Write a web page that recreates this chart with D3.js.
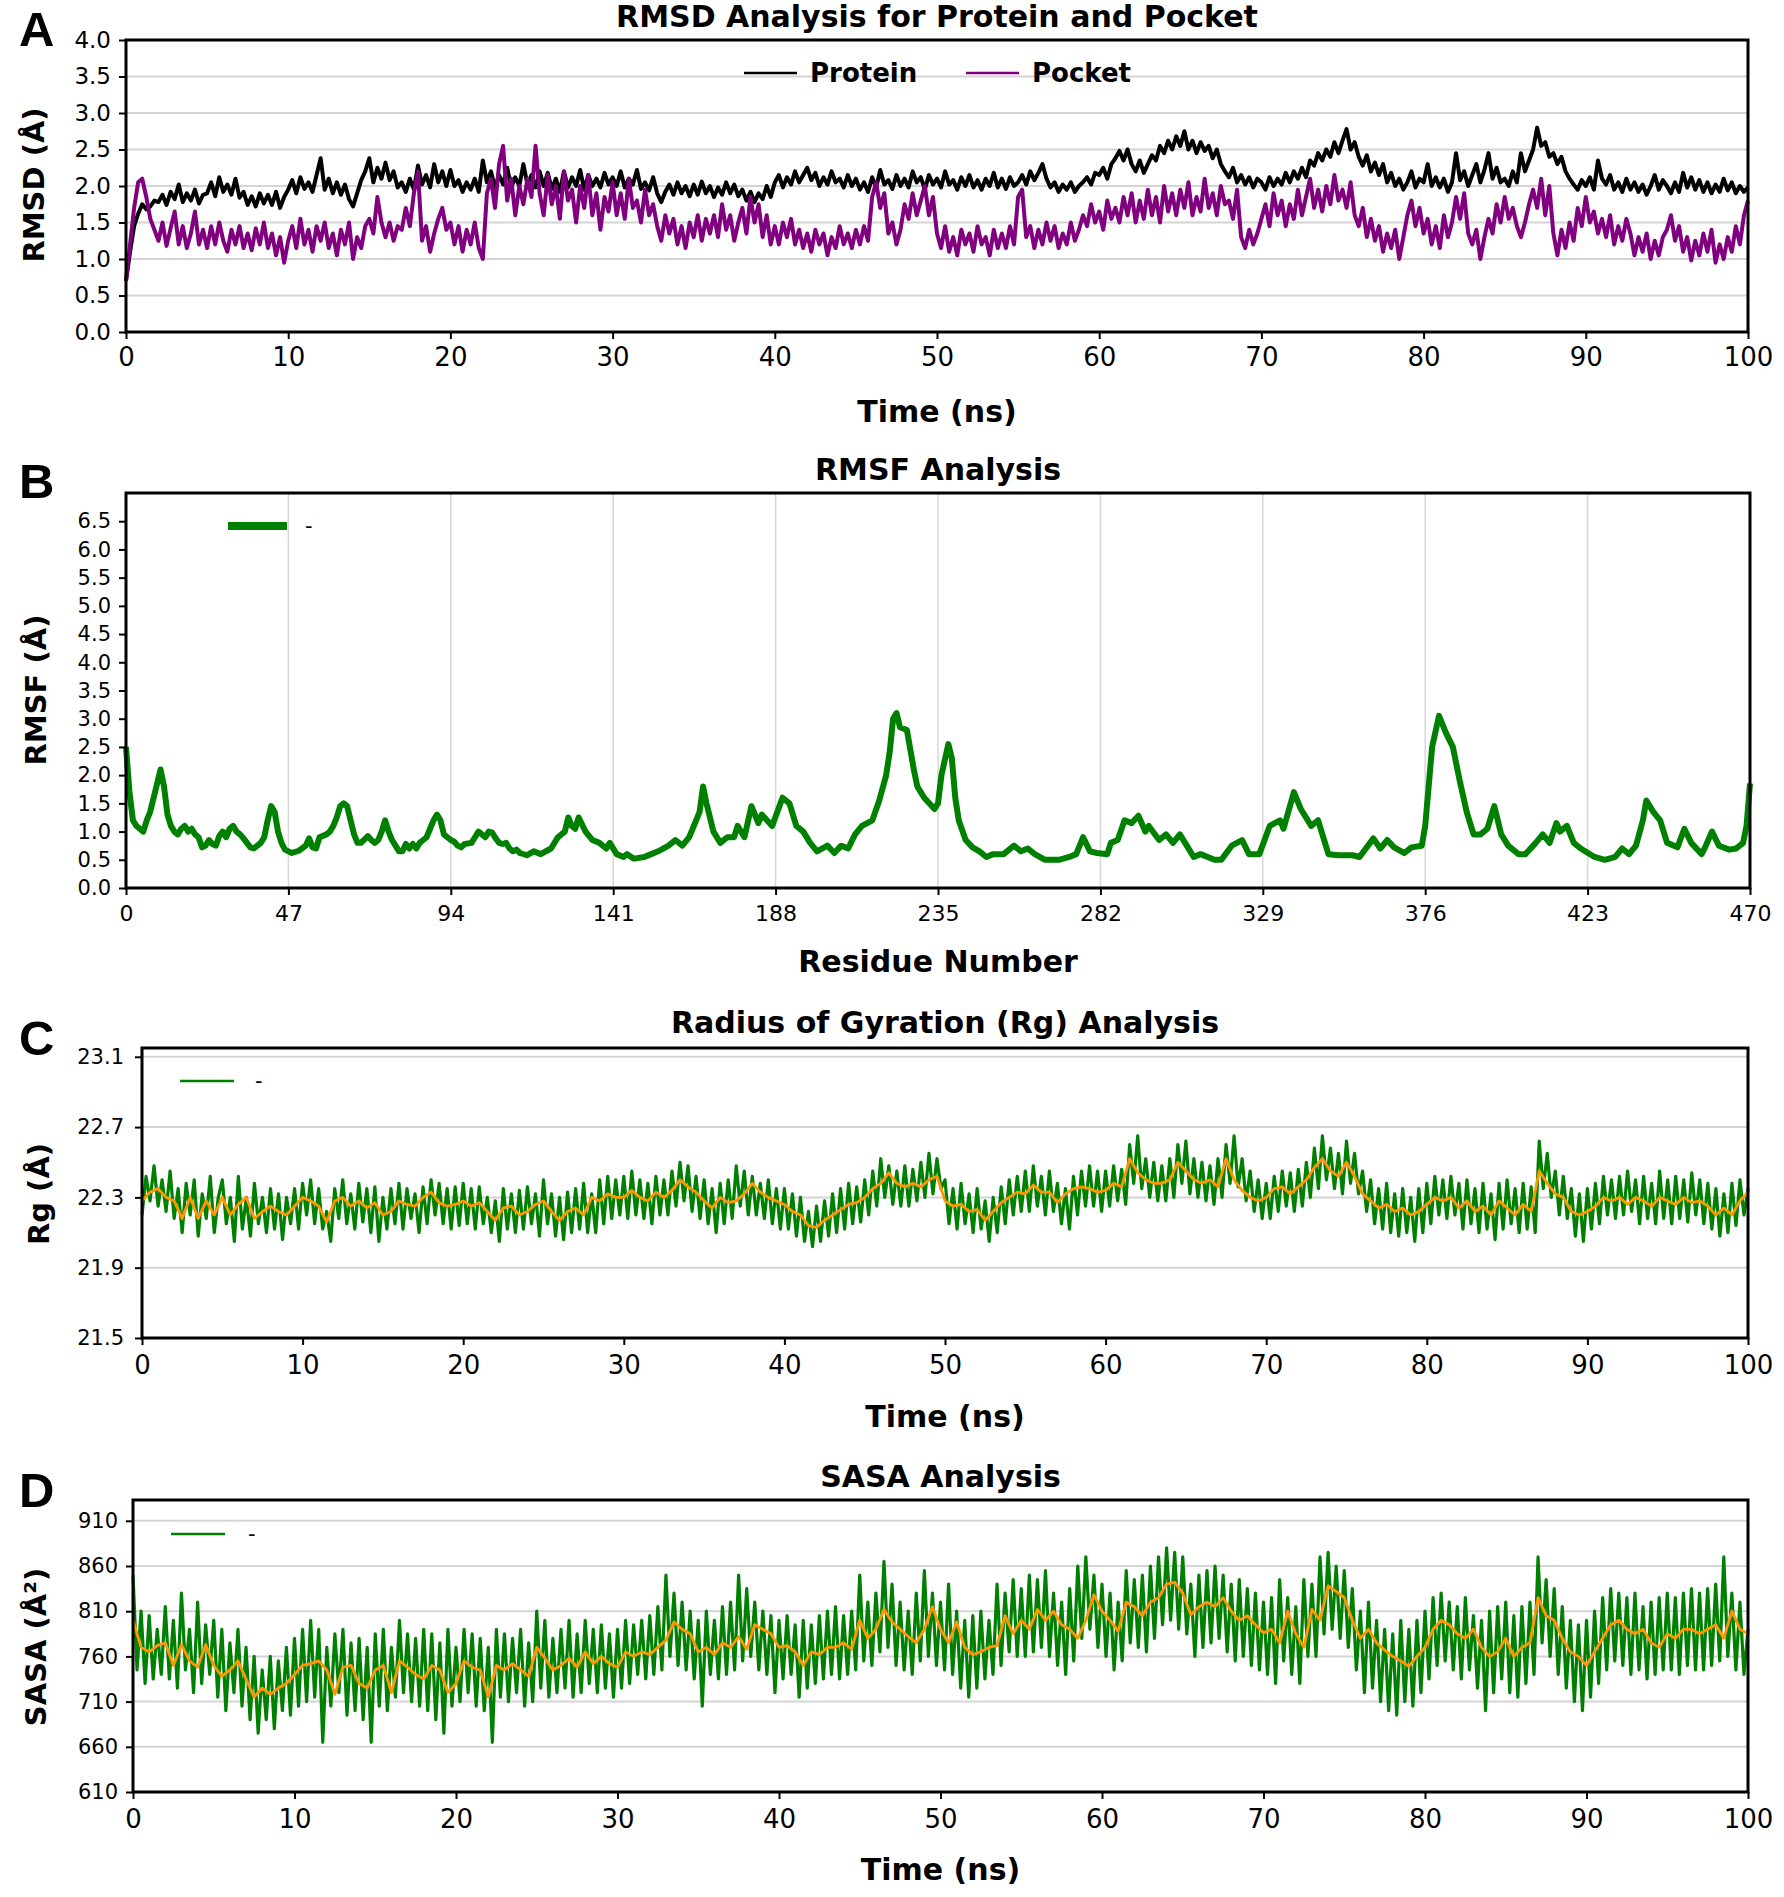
<!DOCTYPE html>
<html>
<head>
<meta charset="utf-8">
<script src="https://cdn.jsdelivr.net/npm/d3@7"></script>
<style>
  body { margin: 0; background: #fff; }
</style>
</head>
<body>
<div id="chart"></div>
<script>
"use strict";

// === DATA ===

// Panel A – RMSD, one value every 0.25 ns from 0 to 100 ns
const rmsdProtein = [
  0.7, 1.1, 1.45, 1.62, 1.75, 1.68, 1.72, 1.8, 1.78, 1.88, 1.74, 1.92, 1.82, 2.02, 1.78, 1.9, 1.8, 1.95, 1.76, 1.88,
  1.9, 2.05, 1.86, 2.12, 1.92, 2.02, 1.88, 2.1, 1.84, 1.92, 1.74, 1.86, 1.72, 1.9, 1.76, 1.88, 1.74, 1.92, 1.7, 1.85,
  1.95, 2.08, 1.9, 2.12, 1.96, 2.05, 1.92, 2.15, 2.38, 1.95, 2.1, 1.9, 2.05, 1.88, 2.02, 1.82, 1.72, 1.9, 2.08, 2.2,
  2.38, 2.05, 2.25, 2.1, 2.32, 2.08, 2.2, 1.98, 2.05, 1.92, 2.1, 1.95, 2.28, 2.02, 2.15, 1.98, 2.3, 2.05, 2.2, 2.0,
  2.22, 2.0, 2.08, 1.92, 2.05, 1.95, 2.1, 1.92, 2.35, 2.05, 2.2, 1.98, 2.15, 2.02, 2.25, 1.98, 2.12, 2.0, 2.3, 2.02,
  2.15, 1.98, 2.2, 2.0, 2.18, 1.96, 2.1, 1.92, 2.2, 1.98, 2.12, 2.0, 2.22, 1.95, 2.15, 2.0, 2.1, 1.98, 2.18, 2.02,
  2.12, 2.0, 2.2, 1.98, 2.1, 2.02, 2.22, 1.96, 2.05, 1.94, 2.12, 1.9, 1.78, 1.92, 2.02, 1.88, 2.05, 1.9, 2.0, 1.86,
  2.02, 1.88, 2.06, 1.9, 2.0, 1.85, 1.98, 1.88, 2.05, 1.9, 2.02, 1.86, 1.95, 1.8, 1.92, 1.78, 1.9, 1.82, 2.0, 1.85,
  2.05, 2.15, 1.98, 2.12, 2.02, 2.2, 2.05, 2.15, 2.25, 2.08, 2.18, 2.0, 2.12, 2.02, 2.2, 2.05, 2.1, 1.98, 2.15, 2.0,
  2.1, 1.95, 2.05, 1.92, 2.12, 1.98, 2.22, 2.02, 2.08, 1.96, 2.15, 2.0, 2.1, 1.98, 2.2, 2.05, 2.12, 1.95, 2.15, 2.02,
  2.1, 1.98, 2.2, 2.02, 2.08, 1.95, 2.12, 2.0, 2.15, 1.98, 2.08, 1.95, 2.1, 2.0, 2.18, 1.98, 2.1, 1.96, 2.12, 2.0,
  2.05, 2.15, 2.02, 2.2, 2.08, 2.18, 2.3, 2.1, 1.98, 2.05, 1.92, 2.02, 1.95, 2.05, 1.92, 2.0, 2.05, 2.12, 2.02, 2.18,
  2.15, 2.25, 2.1, 2.3, 2.38, 2.48, 2.35, 2.5, 2.3, 2.2, 2.35, 2.18, 2.3, 2.42, 2.35, 2.55, 2.45, 2.62, 2.5, 2.68,
  2.55, 2.75, 2.5, 2.62, 2.45, 2.6, 2.48, 2.55, 2.38, 2.5, 2.3, 2.2, 2.12, 2.25, 2.05, 2.15, 2.02, 2.12, 1.98, 2.1,
  2.05, 1.95, 2.12, 2.0, 2.1, 2.02, 2.18, 2.05, 2.2, 2.1, 2.25, 2.12, 2.35, 2.28, 2.45, 2.35, 2.5, 2.4, 2.6, 2.45,
  2.62, 2.78, 2.5, 2.6, 2.4, 2.28, 2.42, 2.2, 2.32, 2.15, 2.3, 2.05, 2.18, 2.0, 2.1, 1.95, 2.05, 2.2, 1.98, 2.1,
  2.05, 2.3, 2.0, 2.12, 1.98, 2.1, 1.92, 2.05, 2.45, 2.08, 2.2, 2.0, 2.15, 2.3, 2.05, 2.22, 2.45, 2.1, 2.25, 2.05,
  2.1, 2.0, 2.2, 2.05, 2.45, 2.2, 2.35, 2.5, 2.8, 2.55, 2.6, 2.4, 2.45, 2.3, 2.4, 2.2, 2.1, 2.02, 1.95, 2.08,
  2.0, 2.12, 1.95, 2.35, 2.1, 2.02, 2.15, 1.95, 2.05, 1.92, 2.1, 1.95, 2.05, 1.92, 2.02, 1.88, 2.0, 2.15, 1.95, 2.08,
  2.0, 1.9, 2.05, 1.92, 2.18, 1.98, 2.12, 1.95, 2.08, 1.92, 2.05, 1.9, 2.02, 1.92, 2.1, 1.94, 2.05, 1.9, 2.0, 1.92,
  1.98
];

const rmsdPocket = [
  0.7, 1.2, 1.7, 2.05, 2.1, 1.85, 1.55, 1.4, 1.25, 1.5, 1.18, 1.42, 1.65, 1.2, 1.45, 1.15, 1.35, 1.65, 1.2, 1.4,
  1.15, 1.45, 1.2, 1.5, 1.25, 1.1, 1.4, 1.2, 1.45, 1.15, 1.35, 1.12, 1.42, 1.2, 1.5, 1.15, 1.35, 1.05, 1.3, 0.95,
  1.25, 1.45, 1.15, 1.55, 1.2, 1.4, 1.1, 1.45, 1.25, 1.5, 1.15, 1.35, 1.05, 1.4, 1.2, 1.5, 1.0, 1.3, 1.15, 1.45,
  1.55, 1.35, 1.85, 1.5, 1.3, 1.5, 1.25, 1.45, 1.4, 1.7, 1.45, 1.9, 2.2, 1.25, 1.45, 1.1, 1.35, 1.55, 1.7, 1.4,
  1.5, 1.2, 1.45, 1.1, 1.4, 1.2, 1.5, 1.15, 1.0, 1.9, 2.1, 1.7, 2.3, 2.55, 1.8, 2.1, 1.6, 2.0, 1.75, 2.1,
  1.85, 2.55, 1.9, 1.6, 2.15, 1.75, 2.0, 1.55, 2.2, 1.8, 1.95, 1.5, 2.0, 1.7, 2.15, 1.6, 1.9, 1.4, 1.85, 1.65,
  2.05, 1.6, 1.9, 1.55, 2.1, 1.7, 1.8, 1.5, 1.95, 1.6, 1.75, 1.45, 1.25, 1.6, 1.35, 1.55, 1.2, 1.45, 1.15, 1.5,
  1.3, 1.6, 1.25, 1.55, 1.35, 1.6, 1.3, 1.75, 1.4, 1.6, 1.25, 1.5, 1.7, 1.35, 1.85, 1.5, 1.75, 1.3, 1.6, 1.2,
  1.45, 1.2, 1.5, 1.3, 1.55, 1.2, 1.4, 1.15, 1.35, 1.1, 1.4, 1.2, 1.35, 1.05, 1.3, 1.15, 1.45, 1.2, 1.35, 1.15,
  1.4, 1.2, 1.45, 1.25, 1.85, 2.05, 1.7, 1.9, 1.35, 1.5, 1.2, 1.4, 1.75, 1.55, 1.9, 1.6, 1.8, 2.0, 1.6, 1.85,
  1.35, 1.15, 1.45, 1.1, 1.3, 1.05, 1.4, 1.2, 1.35, 1.1, 1.45, 1.2, 1.3, 1.05, 1.4, 1.15, 1.35, 1.15, 1.45, 1.2,
  1.85, 1.95, 1.3, 1.45, 1.15, 1.4, 1.2, 1.5, 1.25, 1.45, 1.15, 1.35, 1.2, 1.5, 1.25, 1.4, 1.6, 1.45, 1.75, 1.5,
  1.65, 1.4, 1.8, 1.55, 1.7, 1.5, 1.85, 1.6, 1.9, 1.5, 1.8, 1.55, 1.95, 1.6, 1.85, 1.5, 2.0, 1.65, 1.9, 1.6,
  1.95, 1.7, 2.05, 1.6, 1.85, 1.65, 2.1, 1.7, 1.9, 1.6, 2.0, 1.75, 1.8, 1.55, 1.95, 1.3, 1.15, 1.4, 1.2, 1.35,
  1.55, 1.75, 1.45, 1.9, 1.6, 1.8, 1.45, 1.75, 1.55, 1.95, 1.6, 1.85, 2.1, 1.7, 1.95, 1.65, 2.0, 1.75, 2.15, 1.8,
  1.95, 1.7, 2.05, 1.6, 1.45, 1.7, 1.3, 1.55, 1.25, 1.45, 1.1, 1.35, 1.15, 1.4, 1.0, 1.3, 1.6, 1.8, 1.45, 1.7,
  1.35, 1.55, 1.2, 1.45, 1.15, 1.6, 1.3, 1.5, 1.85, 1.55, 1.9, 1.35, 1.2, 1.4, 1.0, 1.3, 1.55, 1.35, 1.75, 1.5,
  1.85, 1.55, 1.7, 1.45, 1.3, 1.5, 1.75, 1.95, 1.7, 2.1, 1.6, 2.0, 1.35, 1.05, 1.4, 1.15, 1.5, 1.25, 1.7, 1.45,
  1.85, 1.5, 1.65, 1.35, 1.55, 1.3, 1.6, 1.2, 1.45, 1.25, 1.55, 1.35, 1.05, 1.3, 1.1, 1.35, 1.0, 1.25, 1.05, 1.3,
  1.4, 1.6, 1.25, 1.45, 1.1, 1.3, 0.98, 1.25, 1.05, 1.35, 1.1, 1.4, 0.95, 1.2, 1.0, 1.3, 1.1, 1.45, 1.2, 1.6,
  1.8
];

// Panel B – RMSF per residue
const residues = [
  0, 1, 2, 3, 4, 5, 6, 7, 8, 9, 10, 11, 12, 13, 14, 15, 16, 17, 18, 19, 20, 21, 22, 23, 24, 25, 26, 27, 28, 29,
  30, 31, 32, 33, 34, 35, 36, 37, 38, 39, 40, 41, 42, 43, 44, 45, 46, 47, 48, 50, 52, 53, 54, 55, 56, 58, 59, 60,
  61, 62, 63, 64, 65, 66, 67, 68, 70, 71, 72, 73, 74, 75, 76, 77, 78, 79, 80, 81, 82, 83, 84, 85, 86, 87, 88, 89,
  90, 91, 92, 93, 94, 95, 96, 97, 98, 100, 101, 102, 103, 104, 105, 106, 107, 108, 109, 110, 111, 112, 113, 114,
  116, 118, 120, 123, 125, 127, 128, 129, 130, 131, 133, 135, 137, 139, 140, 142, 144, 145, 147, 150, 152, 154,
  157, 159, 161, 163, 165, 166, 167, 168, 170, 172, 174, 176, 177, 179, 181, 183, 184, 187, 190, 192, 194, 196,
  198, 200, 203, 205, 207, 209, 211, 213, 216, 218, 220, 221, 222, 223, 224, 226, 228, 229, 231, 234, 235, 236,
  238, 239, 240, 241, 243, 245, 247, 249, 251, 254, 257, 259, 261, 263, 266, 270, 273, 275, 277, 279, 281, 284,
  285, 287, 289, 291, 293, 295, 296, 299, 301, 303, 305, 307, 309, 311, 315, 317, 320, 323, 325, 328, 331, 334,
  335, 338, 340, 343, 345, 348, 351, 355, 357, 361, 363, 365, 367, 370, 372, 375, 376, 378, 380, 382, 384, 386,
  388, 390, 392, 394, 396, 398, 400, 403, 405, 408, 410, 412, 414, 415, 417, 419, 421, 425, 428, 431, 433, 435,
  437, 439, 440, 442, 444, 446, 449, 451, 453, 456, 457, 459, 461, 464, 466, 468, 469, 470
];
const rmsf = [
  2.5, 1.7, 1.2, 1.1, 1.05, 1.0, 1.2, 1.35, 1.6, 1.85, 2.1, 1.8, 1.3, 1.1, 1.0, 0.95, 1.05, 1.1, 1.0, 1.05, 0.95, 0.9, 0.72, 0.75, 0.85, 0.78, 0.75, 0.92, 1.0, 0.9,
  1.05, 1.1, 1.0, 0.95, 0.88, 0.8, 0.72, 0.7, 0.75, 0.8, 0.9, 1.2, 1.45, 1.35, 1.0, 0.8, 0.68, 0.65, 0.62, 0.66, 0.75, 0.88, 0.72, 0.7, 0.9, 0.95, 1.0, 1.1,
  1.25, 1.45, 1.5, 1.45, 1.2, 0.95, 0.8, 0.8, 0.92, 0.85, 0.8, 0.85, 1.0, 1.2, 1.0, 0.85, 0.75, 0.65, 0.65, 0.78, 0.7, 0.78, 0.7, 0.8, 0.85, 0.9, 1.05, 1.2,
  1.3, 1.2, 0.95, 0.9, 0.85, 0.82, 0.75, 0.72, 0.78, 0.8, 0.9, 1.0, 0.95, 0.9, 1.0, 0.98, 0.88, 0.8, 0.78, 0.8, 0.7, 0.65, 0.68, 0.62,
  0.58, 0.65, 0.6, 0.7, 0.9, 1.0, 1.25, 1.1, 1.05, 1.25, 1.0, 0.85, 0.8, 0.7, 0.8, 0.6, 0.55, 0.6, 0.52, 0.55, 0.6, 0.65,
  0.75, 0.85, 0.75, 0.9, 1.2, 1.35, 1.8, 1.5, 1.0, 0.8, 0.9, 0.9, 1.1, 0.9, 1.45, 1.15, 1.3, 1.1, 1.6, 1.5, 1.1, 1.0,
  0.8, 0.65, 0.75, 0.62, 0.75, 0.7, 0.95, 1.1, 1.2, 1.55, 2.0, 2.4, 3.0, 3.1, 2.85, 2.8, 2.1, 1.8, 1.6, 1.4, 1.5, 2.0,
  2.55, 2.3, 1.6, 1.2, 0.85, 0.72, 0.65, 0.55, 0.6, 0.6, 0.75, 0.65, 0.7, 0.6, 0.5, 0.5, 0.55, 0.6, 0.9, 0.65, 0.62, 0.6,
  0.8, 0.85, 1.2, 1.15, 1.28, 1.0, 1.1, 0.85, 0.95, 0.8, 0.95, 0.75, 0.55, 0.6, 0.5, 0.5, 0.75, 0.85, 0.6, 0.6, 1.1, 1.2,
  1.05, 1.7, 1.4, 1.1, 1.2, 0.6, 0.58, 0.58, 0.55, 0.88, 0.7, 0.85, 0.72, 0.62, 0.72, 0.75, 1.1, 2.5, 3.05, 2.75, 2.5, 1.9,
  1.35, 0.95, 0.95, 1.05, 1.45, 0.95, 0.75, 0.6, 0.6, 0.8, 0.95, 0.8, 1.15, 1.0, 1.1, 0.8, 0.7, 0.55, 0.5, 0.55, 0.7, 0.6,
  0.75, 1.2, 1.55, 1.35, 1.2, 0.8, 0.72, 1.05, 0.8, 0.6, 0.72, 1.0, 0.75, 0.68, 0.7, 0.8, 1.1, 1.85
];

// Panel C – radius of gyration, raw every 0.25 ns and running mean every 0.5 ns
const rgRaw = [
  22.2, 22.42, 22.28, 22.48, 22.25, 22.4, 22.22, 22.45, 22.18, 22.35, 22.1, 22.38, 22.2, 22.4, 22.08, 22.32, 22.18, 22.42, 22.1, 22.3,
  22.4, 22.15, 22.3, 22.05, 22.42, 22.12, 22.3, 22.08, 22.38, 22.15, 22.3, 22.1, 22.35, 22.12, 22.32, 22.06, 22.3, 22.15, 22.35, 22.12,
  22.38, 22.2, 22.4, 22.15, 22.35, 22.12, 22.22, 22.05, 22.35, 22.18, 22.4, 22.15, 22.32, 22.12, 22.38, 22.16, 22.35, 22.1, 22.36, 22.05,
  22.3, 22.12, 22.35, 22.15, 22.38, 22.12, 22.35, 22.18, 22.32, 22.1, 22.36, 22.15, 22.4, 22.2, 22.38, 22.15, 22.35, 22.12, 22.36, 22.14,
  22.38, 22.15, 22.35, 22.12, 22.36, 22.15, 22.3, 22.1, 22.28, 22.05, 22.35, 22.12, 22.32, 22.1, 22.34, 22.12, 22.36, 22.15, 22.32, 22.08,
  22.4, 22.15, 22.32, 22.08, 22.3, 22.06, 22.33, 22.1, 22.35, 22.12, 22.38, 22.1, 22.32, 22.1, 22.4, 22.15, 22.42, 22.18, 22.4, 22.2,
  22.42, 22.18, 22.45, 22.2, 22.4, 22.18, 22.38, 22.15, 22.42, 22.2, 22.4, 22.2, 22.45, 22.25, 22.5, 22.28, 22.48, 22.22, 22.42, 22.18,
  22.4, 22.15, 22.35, 22.1, 22.38, 22.15, 22.4, 22.18, 22.48, 22.25, 22.45, 22.2, 22.42, 22.2, 22.38, 22.18, 22.4, 22.15, 22.35, 22.12,
  22.35, 22.12, 22.32, 22.08, 22.3, 22.05, 22.22, 22.02, 22.25, 22.05, 22.28, 22.08, 22.32, 22.1, 22.35, 22.12, 22.38, 22.15, 22.36, 22.16,
  22.4, 22.2, 22.45, 22.25, 22.52, 22.3, 22.48, 22.26, 22.45, 22.25, 22.48, 22.25, 22.46, 22.28, 22.5, 22.3, 22.55, 22.32, 22.52, 22.35,
  22.4, 22.15, 22.35, 22.12, 22.38, 22.15, 22.32, 22.1, 22.35, 22.12, 22.28, 22.05, 22.3, 22.1, 22.36, 22.15, 22.4, 22.2, 22.42, 22.22,
  22.45, 22.22, 22.48, 22.25, 22.42, 22.2, 22.45, 22.22, 22.38, 22.15, 22.35, 22.12, 22.42, 22.2, 22.45, 22.25, 22.48, 22.25, 22.45, 22.22,
  22.45, 22.25, 22.48, 22.28, 22.46, 22.26, 22.6, 22.38, 22.65, 22.35, 22.52, 22.3, 22.5, 22.28, 22.48, 22.28, 22.52, 22.3, 22.6, 22.38,
  22.62, 22.32, 22.52, 22.3, 22.5, 22.28, 22.48, 22.26, 22.52, 22.3, 22.6, 22.38, 22.65, 22.36, 22.52, 22.28, 22.45, 22.22, 22.4, 22.18,
  22.38, 22.18, 22.42, 22.22, 22.45, 22.25, 22.44, 22.22, 22.46, 22.25, 22.5, 22.3, 22.58, 22.35, 22.65, 22.4, 22.58, 22.35, 22.55, 22.32,
  22.62, 22.38, 22.55, 22.32, 22.45, 22.22, 22.4, 22.15, 22.35, 22.12, 22.38, 22.1, 22.32, 22.08, 22.35, 22.1, 22.3, 22.05, 22.35, 22.1,
  22.38, 22.15, 22.42, 22.2, 22.4, 22.18, 22.42, 22.2, 22.38, 22.12, 22.4, 22.15, 22.35, 22.1, 22.38, 22.12, 22.32, 22.06, 22.38, 22.12,
  22.4, 22.15, 22.35, 22.1, 22.38, 22.12, 22.36, 22.1, 22.62, 22.35, 22.55, 22.3, 22.45, 22.2, 22.42, 22.18, 22.35, 22.08, 22.32, 22.05,
  22.35, 22.12, 22.38, 22.15, 22.42, 22.2, 22.4, 22.18, 22.42, 22.2, 22.45, 22.22, 22.4, 22.15, 22.42, 22.18, 22.38, 22.15, 22.45, 22.18,
  22.4, 22.15, 22.42, 22.18, 22.4, 22.16, 22.44, 22.2, 22.4, 22.15, 22.38, 22.12, 22.35, 22.08, 22.32, 22.1, 22.38, 22.14, 22.4, 22.2,
  22.35
];
const rgSmooth = [
  22.28, 22.33, 22.35, 22.3, 22.28, 22.18, 22.3, 22.18, 22.28, 22.2, 22.3, 22.2, 22.26, 22.3, 22.18, 22.22, 22.25, 22.22, 22.2, 22.25,
  22.3, 22.28, 22.25, 22.16, 22.28, 22.3, 22.25, 22.28, 22.24, 22.27, 22.2, 22.22, 22.28, 22.26, 22.25, 22.3, 22.33, 22.27, 22.25, 22.26,
  22.28, 22.25, 22.27, 22.22, 22.17, 22.24, 22.25, 22.2, 22.22, 22.26, 22.28, 22.22, 22.17, 22.22, 22.24, 22.2, 22.3, 22.28, 22.32, 22.3,
  22.3, 22.34, 22.3, 22.28, 22.33, 22.3, 22.34, 22.4, 22.36, 22.33, 22.28, 22.24, 22.3, 22.27, 22.28, 22.32, 22.38, 22.33, 22.3, 22.28,
  22.26, 22.22, 22.2, 22.14, 22.13, 22.17, 22.2, 22.23, 22.26, 22.27, 22.3, 22.35, 22.38, 22.44, 22.38, 22.36, 22.38, 22.36, 22.4, 22.42,
  22.28, 22.25, 22.26, 22.22, 22.23, 22.17, 22.22, 22.27, 22.3, 22.33, 22.32, 22.37, 22.33, 22.33, 22.27, 22.32, 22.35, 22.36, 22.35, 22.33,
  22.34, 22.38, 22.36, 22.52, 22.44, 22.4, 22.38, 22.38, 22.4, 22.5, 22.45, 22.4, 22.38, 22.4, 22.36, 22.52, 22.4, 22.34, 22.3, 22.28,
  22.3, 22.35, 22.36, 22.32, 22.36, 22.4, 22.47, 22.52, 22.45, 22.42, 22.5, 22.42, 22.32, 22.28, 22.24, 22.26, 22.22, 22.24, 22.2, 22.22,
  22.26, 22.3, 22.28, 22.3, 22.24, 22.28, 22.22, 22.25, 22.2, 22.28, 22.24, 22.2, 22.26, 22.22, 22.45, 22.38, 22.32, 22.3, 22.22, 22.2,
  22.22, 22.25, 22.3, 22.28, 22.3, 22.26, 22.3, 22.28, 22.25, 22.3, 22.28, 22.26, 22.3, 22.27, 22.28, 22.25, 22.2, 22.24, 22.2, 22.28,
  22.33
];

// Panel D – SASA, raw every 0.25 ns and running mean every 0.5 ns
const sasaRaw = [
  850, 745, 810, 730, 805, 735, 790, 740, 815, 735, 800, 725, 830, 745, 790, 720, 820, 730, 795, 740,
  800, 715, 790, 700, 775, 720, 790, 705, 770, 690, 760, 675, 745, 690, 760, 680, 755, 700, 770, 695,
  780, 705, 790, 710, 800, 715, 790, 665, 770, 705, 785, 720, 790, 695, 775, 700, 780, 690, 770, 665,
  785, 705, 790, 700, 770, 715, 800, 720, 785, 710, 780, 705, 790, 700, 785, 690, 775, 675, 790, 705,
  770, 710, 790, 720, 785, 705, 780, 700, 770, 665, 790, 715, 785, 710, 780, 720, 790, 705, 775, 710,
  810, 725, 800, 715, 780, 720, 790, 725, 800, 715, 785, 720, 800, 730, 790, 720, 795, 725, 785, 715,
  790, 725, 800, 730, 795, 740, 800, 735, 805, 740, 815, 745, 850, 760, 830, 750, 820, 745, 810, 735,
  800, 705, 810, 740, 800, 735, 815, 740, 820, 745, 850, 755, 835, 760, 820, 745, 810, 740, 805, 720,
  800, 735, 805, 740, 795, 715, 800, 725, 795, 730, 805, 735, 810, 740, 815, 735, 805, 740, 810, 745,
  850, 755, 820, 750, 830, 765, 865, 770, 840, 750, 820, 745, 810, 740, 830, 755, 855, 760, 830, 750,
  820, 745, 840, 740, 810, 725, 800, 715, 805, 725, 810, 735, 800, 740, 840, 750, 830, 765, 845, 760,
  835, 760, 850, 765, 845, 770, 855, 760, 830, 750, 820, 740, 835, 755, 860, 780, 870, 790, 850, 770,
  840, 760, 830, 745, 820, 755, 855, 775, 845, 770, 850, 765, 860, 780, 870, 795, 880, 800, 875, 790,
  870, 785, 840, 760, 850, 770, 855, 775, 860, 780, 850, 765, 840, 755, 845, 760, 835, 750, 830, 745,
  820, 740, 825, 730, 845, 755, 825, 740, 815, 730, 845, 760, 840, 760, 870, 785, 875, 790, 860, 780,
  855, 770, 835, 745, 810, 720, 820, 725, 800, 710, 790, 700, 785, 695, 800, 710, 790, 705, 800, 720,
  810, 735, 825, 750, 830, 755, 820, 745, 815, 735, 825, 745, 805, 725, 800, 700, 810, 720, 815, 735,
  820, 720, 805, 715, 815, 730, 820, 740, 870, 775, 845, 760, 835, 740, 815, 725, 800, 710, 795, 700,
  800, 715, 810, 730, 825, 745, 835, 755, 830, 750, 825, 740, 830, 745, 815, 735, 820, 740, 825, 745,
  830, 745, 825, 740, 830, 750, 835, 745, 830, 745, 835, 750, 840, 755, 870, 760, 830, 745, 820, 740,
  790
];
const sasaSmooth = [
  800, 770, 765, 772, 775, 750, 773, 755, 748, 773, 750, 738, 745, 755, 735, 715, 725, 718, 725, 730,
  740, 750, 752, 755, 745, 718, 748, 750, 730, 725, 745, 750, 720, 755, 748, 740, 735, 750, 745, 720,
  730, 755, 748, 745, 715, 750, 745, 752, 745, 738, 770, 758, 745, 750, 758, 748, 765, 752, 760, 752,
  748, 765, 760, 765, 762, 770, 778, 798, 790, 785, 765, 770, 762, 775, 770, 782, 768, 795, 790, 785,
  770, 772, 765, 750, 765, 762, 770, 770, 775, 768, 800, 780, 790, 812, 798, 790, 782, 775, 790, 815,
  790, 775, 798, 770, 762, 765, 770, 772, 805, 785, 800, 790, 812, 800, 810, 795, 790, 780, 800, 828,
  810, 800, 788, 820, 815, 805, 820, 825, 840, 842, 830, 806, 815, 820, 815, 825, 810, 800, 805, 795,
  786, 790, 775, 810, 785, 770, 812, 800, 838, 832, 825, 800, 780, 790, 775, 767, 760, 755, 749, 760,
  770, 790, 800, 795, 785, 780, 790, 770, 760, 765, 780, 760, 770, 775, 825, 805, 800, 780, 765, 760,
  750, 765, 780, 795, 800, 790, 785, 790, 775, 770, 785, 780, 790, 790, 785, 790, 795, 780, 810, 790,
  785
];

// tick values
const timeTicks = [0, 10, 20, 30, 40, 50, 60, 70, 80, 90, 100];
const rmsdTicks = [0, 0.5, 1, 1.5, 2, 2.5, 3, 3.5, 4];
const residueTicks = [0, 47, 94, 141, 188, 235, 282, 329, 376, 423, 470];
const rmsfTicks = [0, 0.5, 1, 1.5, 2, 2.5, 3, 3.5, 4, 4.5, 5, 5.5, 6, 6.5];
const rgTicks = [21.5, 21.9, 22.3, 22.7, 23.1];
const sasaTicks = [610, 660, 710, 760, 810, 860, 910];

// === SVG SETUP ===
const W = 1784, H = 1897;
const FONT = "DejaVu Sans";

const svg = d3.select("#chart")
  .append("svg")
  .attr("width", W)
  .attr("height", H)
  .style("font-family", FONT)
  .style("background", "#fff");

// times for a series sampled evenly over 0–100 ns
const timesFor = arr => arr.map((d, i) => i * 100 / (arr.length - 1));

function styleAxis(sel, size) {
  sel.select(".domain").remove();
  sel.selectAll(".tick line").attr("stroke", "#000").attr("stroke-width", 2);
  sel.selectAll(".tick text")
    .attr("fill", "#000")
    .style("font-family", FONT)
    .style("font-size", size + "px");
}

// one subplot: grid, axes, frame, titles. Returns scales and a layer for the data.
function panel(o) {
  const x = d3.scaleLinear().domain(o.xDomain).range([o.left, o.right]);
  const y = d3.scaleLinear().domain(o.yDomain).range([o.bottom, o.top]);
  const g = svg.append("g");

  if (o.grid === "h") {
    g.selectAll("line.grid").data(o.yTicks).join("line")
      .attr("class", "grid")
      .attr("x1", o.left).attr("x2", o.right)
      .attr("y1", d => y(d)).attr("y2", d => y(d))
      .attr("stroke", "#d4d4d4").attr("stroke-width", 2);
  } else {
    g.selectAll("line.grid").data(o.xTicks).join("line")
      .attr("class", "grid")
      .attr("x1", d => x(d)).attr("x2", d => x(d))
      .attr("y1", o.top).attr("y2", o.bottom)
      .attr("stroke", "#d8d8d8").attr("stroke-width", 1.5);
  }

  const layer = g.append("g");

  g.append("g")
    .attr("transform", `translate(0,${o.bottom})`)
    .call(d3.axisBottom(x).tickValues(o.xTicks).tickSize(7).tickPadding(o.xPad).tickFormat(d3.format("d")))
    .call(styleAxis, o.xFont);

  g.append("g")
    .attr("transform", `translate(${o.left},0)`)
    .call(d3.axisLeft(y).tickValues(o.yTicks).tickSize(7).tickPadding(o.yPad).tickFormat(o.yFmt))
    .call(styleAxis, o.yFont);

  const legend = g.append("g");

  g.append("rect")
    .attr("x", o.left).attr("y", o.top)
    .attr("width", o.right - o.left).attr("height", o.bottom - o.top)
    .attr("fill", "none").attr("stroke", "#000").attr("stroke-width", 3);

  g.append("text")
    .attr("x", (o.left + o.right) / 2).attr("y", o.titleY)
    .attr("text-anchor", "middle")
    .attr("font-weight", "bold").attr("font-size", 30)
    .text(o.title);

  g.append("text")
    .attr("x", (o.left + o.right) / 2).attr("y", o.xLabelY)
    .attr("text-anchor", "middle")
    .attr("font-weight", "bold").attr("font-size", 30)
    .text(o.xLabel);

  g.append("text")
    .attr("transform", `translate(${o.yLabelX},${o.yLabelY}) rotate(-90)`)
    .attr("text-anchor", "middle").attr("dy", "0.35em")
    .attr("font-weight", "bold").attr("font-size", 29)
    .text(o.yLabel);

  g.append("text")
    .attr("x", 19).attr("y", o.letterY)
    .style("font-family", "Liberation Sans")
    .attr("font-weight", "bold").attr("font-size", 49)
    .text(o.letter);

  return { x, y, layer, legend };
}

function legendItem(p, x1, x2, y, color, width, label, opts) {
  p.legend.append("line")
    .attr("x1", x1).attr("x2", x2).attr("y1", y).attr("y2", y)
    .attr("stroke", color).attr("stroke-width", width);
  p.legend.append("text")
    .attr("x", opts.textX).attr("y", y).attr("dy", "0.35em")
    .attr("font-size", opts.size).attr("font-weight", opts.weight || "normal")
    .text(label);
}

function drawSeries(p, xs, ys, color, width) {
  const line = d3.line()
    .x((d, i) => p.x(xs[i]))
    .y(d => p.y(d));
  p.layer.append("path")
    .datum(ys)
    .attr("d", line)
    .attr("fill", "none")
    .attr("stroke", color)
    .attr("stroke-width", width)
    .attr("stroke-linejoin", "round");
}

// === PANEL A: RMSD ===
const pA = panel({
  left: 126, right: 1748, top: 40, bottom: 332,
  xDomain: [0, 100], yDomain: [0, 4],
  xTicks: timeTicks, yTicks: rmsdTicks, yFmt: d3.format(".1f"),
  xFont: 26, yFont: 23, xPad: 9, yPad: 8, grid: "h",
  title: "RMSD Analysis for Protein and Pocket", titleY: 27,
  xLabel: "Time (ns)", xLabelY: 422,
  yLabel: "RMSD (Å)", yLabelX: 34, yLabelY: 185,
  letter: "A", letterY: 46
});
drawSeries(pA, timesFor(rmsdProtein), rmsdProtein, "#000000", 4);
drawSeries(pA, timesFor(rmsdPocket), rmsdPocket, "#800080", 4);
legendItem(pA, 744, 797, 73, "#000000", 2.5, "Protein", { textX: 810, size: 26, weight: "bold" });
legendItem(pA, 966, 1019, 73, "#800080", 2.5, "Pocket", { textX: 1032, size: 26, weight: "bold" });

// === PANEL B: RMSF ===
const pB = panel({
  left: 126, right: 1750, top: 493, bottom: 888,
  xDomain: [0, 470], yDomain: [0, 7],
  xTicks: residueTicks, yTicks: rmsfTicks, yFmt: d3.format(".1f"),
  xFont: 22, yFont: 21, xPad: 10, yPad: 8, grid: "v",
  title: "RMSF Analysis", titleY: 480,
  xLabel: "Residue Number", xLabelY: 972,
  yLabel: "RMSF (Å)", yLabelX: 36, yLabelY: 690,
  letter: "B", letterY: 498
});
drawSeries(pB, residues, rmsf, "#008000", 6);
legendItem(pB, 228, 287, 526, "#008000", 8, "-", { textX: 305, size: 21 });

// === PANEL C: Rg ===
const pC = panel({
  left: 142, right: 1748, top: 1048, bottom: 1338,
  xDomain: [0, 100], yDomain: [21.5, 23.15],
  xTicks: timeTicks, yTicks: rgTicks, yFmt: d3.format(".1f"),
  xFont: 26, yFont: 21, xPad: 11, yPad: 11, grid: "h",
  title: "Radius of Gyration (Rg) Analysis", titleY: 1033,
  xLabel: "Time (ns)", xLabelY: 1427,
  yLabel: "Rg (Å)", yLabelX: 39, yLabelY: 1194,
  letter: "C", letterY: 1055
});
drawSeries(pC, timesFor(rgRaw), rgRaw, "#008000", 3.2);
drawSeries(pC, timesFor(rgSmooth), rgSmooth, "#ff9800", 2.8);
legendItem(pC, 180, 234, 1081, "#008000", 2.5, "-", { textX: 255, size: 21 });

// === PANEL D: SASA ===
const pD = panel({
  left: 133, right: 1748, top: 1500, bottom: 1792,
  xDomain: [0, 100], yDomain: [610, 933],
  xTicks: timeTicks, yTicks: sasaTicks, yFmt: d3.format("d"),
  xFont: 26, yFont: 21, xPad: 11, yPad: 8, grid: "h",
  title: "SASA Analysis", titleY: 1487,
  xLabel: "Time (ns)", xLabelY: 1880,
  yLabel: "SASA (Å²)", yLabelX: 36, yLabelY: 1647,
  letter: "D", letterY: 1507
});
drawSeries(pD, timesFor(sasaRaw), sasaRaw, "#008000", 3.2);
drawSeries(pD, timesFor(sasaSmooth), sasaSmooth, "#ff9800", 2.8);
legendItem(pD, 171, 225, 1534, "#008000", 2.5, "-", { textX: 248, size: 21 });
</script>
</body>
</html>
